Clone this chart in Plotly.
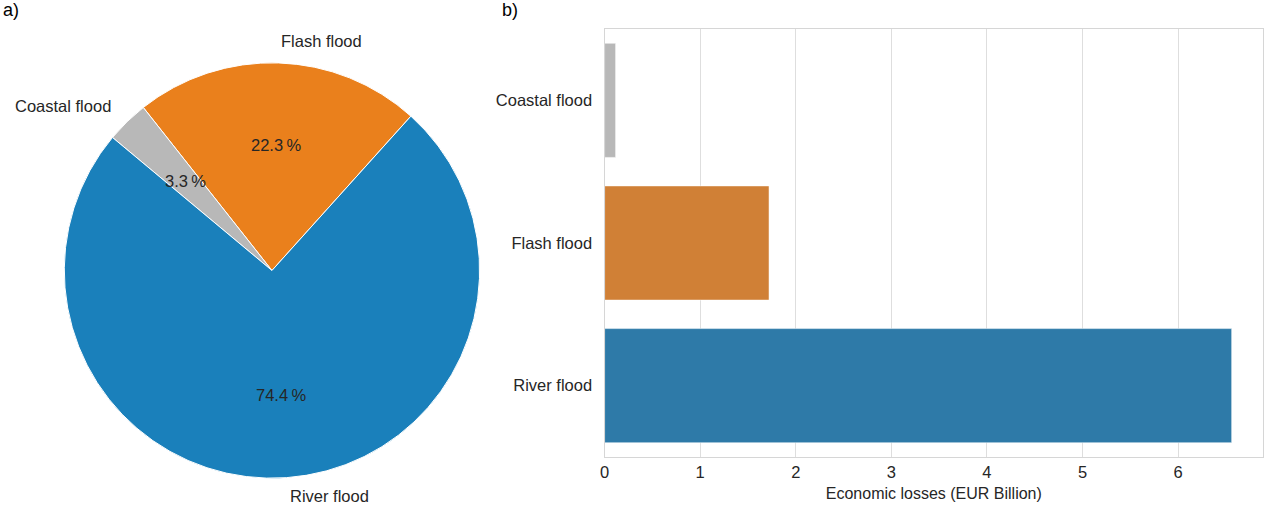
import math
import plotly.graph_objects as go

# ---- data ----
pie_labels = ["Flash flood", "Coastal flood", "River flood"]
pie_values = [22.3, 3.3, 74.4]
pie_colors = ["#ea801c", "#b8b8b8", "#1a80bb"]

bar_categories = ["Coastal flood", "Flash flood", "River flood"]
bar_values = [0.115, 1.72, 6.56]
bar_colors = ["#b8b8b8", "#d08036", "#2e7aa8"]

x_ticks = [0, 1, 2, 3, 4, 5, 6]

W, H = 1265, 506
TXT = "#262626"
FONT = "Liberation Sans, Arial, sans-serif"
FS = 16.5

# pie geometry (pixels)
cx, cy, r = 268, 270.5, 208.5
start_deg = 48.0  # math angle where first slice starts, going counterclockwise

fig = go.Figure()

total = sum(pie_values)
first_end = start_deg + 360 * pie_values[0] / total

fig.add_trace(go.Pie(
    labels=pie_labels, values=pie_values, sort=False,
    direction="counterclockwise", rotation=90 - first_end,
    marker=dict(colors=pie_colors, line=dict(color="white", width=1)),
    textinfo="none", hoverinfo="label+percent", showlegend=False,
    domain=dict(x=[(cx - r) / W, (cx + r) / W], y=[(H - cy - r) / H, (H - cy + r) / H]),
))

cum = 0.0
for lab, v in zip(pie_labels, pie_values):
    mid = math.radians(start_deg + 360 * (cum + v / 2) / total)
    cum += v
    c, s = math.cos(mid), math.sin(mid)
    xanchor = "left" if c >= 0 else "right"
    ly = min(cy - 1.1 * r * s, H - 10)  # keep label inside the page
    fig.add_annotation(x=(cx + 1.1 * r * c) / W, y=(H - ly) / H,
                       xref="paper", yref="paper", text=lab,
                       showarrow=False, xanchor=xanchor, yanchor="middle",
                       font=dict(size=FS, color=TXT, family=FONT))
    fig.add_annotation(x=(cx + 0.6 * r * c) / W, y=(H - cy + 0.6 * r * s) / H,
                       xref="paper", yref="paper",
                       text=f"{100 * v / total:.1f}\u2009%",
                       showarrow=False, xanchor="center", yanchor="middle",
                       font=dict(size=FS, color=TXT, family=FONT))

# bar chart
fig.add_trace(go.Bar(
    x=bar_values, y=bar_categories, orientation="h",
    marker=dict(color=bar_colors, line=dict(color="white", width=0.5)),
    width=0.8, showlegend=False, xaxis="x", yaxis="y",
))

fig.update_layout(
    width=W, height=H,
    margin=dict(l=0, r=0, t=0, b=0),
    paper_bgcolor="white", plot_bgcolor="white",
    font=dict(family=FONT, color=TXT, size=FS),
    xaxis=dict(domain=[602 / W, 1263 / W], range=[0, max(bar_values) * 1.05],
               tickvals=x_ticks, ticks="", showgrid=True, gridcolor="#dedede", gridwidth=1.3,
               zeroline=False, showline=True, linecolor="#d6d6d6", linewidth=1.3, mirror=True,
               tickfont=dict(size=FS, color=TXT),
               title=dict(text="Economic losses (EUR Billion)", font=dict(size=16, color=TXT), standoff=7),
               anchor="y"),
    yaxis=dict(domain=[1 - 457 / H, 1 - 29 / H], autorange="reversed",
               ticks="", showgrid=False, showline=True, linecolor="#d6d6d6", linewidth=1.3,
               mirror=True, tickfont=dict(size=FS, color=TXT), ticklabelstandoff=8,
               anchor="x"),
    bargap=0.2,
)

fig.add_annotation(x=-4 / W, y=1 - 10 / H, xref="paper", yref="paper", text="a)", showarrow=False,
                   xanchor="left", yanchor="middle", font=dict(size=18, color="black", family=FONT))
fig.add_annotation(x=497 / W, y=1 - 10 / H, xref="paper", yref="paper", text="b)", showarrow=False,
                   xanchor="left", yanchor="middle", font=dict(size=18, color="black", family=FONT))

fig.write_html("out.html", config={"displayModeBar": False},
               post_script="document.body.style.margin='0';")
